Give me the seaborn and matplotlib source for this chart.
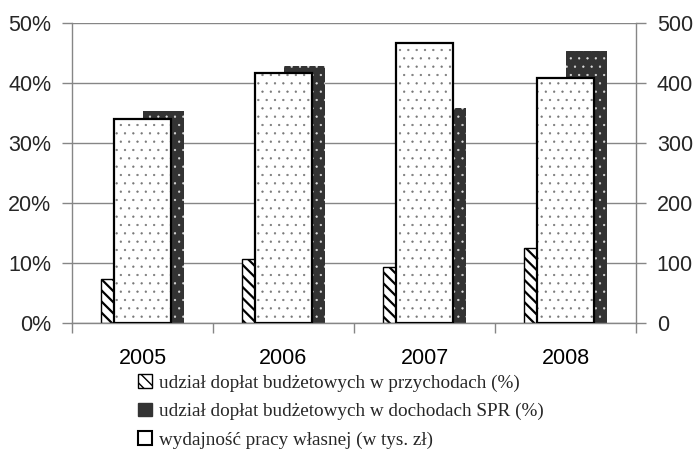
import numpy as np
import pandas as pd
import seaborn as sns
import matplotlib.pyplot as plt
import matplotlib.patches as mpatches
from matplotlib.ticker import FixedLocator, FuncFormatter

# Dane
lata = ["2005", "2006", "2007", "2008"]
udzial_przychody = [7.3, 10.7, 9.4, 12.5]      # %
udzial_dochody = [35.4, 42.9, 35.9, 45.3]      # %
wydajnosc = [340, 417, 467, 409]               # tys. zl

etykiety = [
    "udział dopłat budżetowych w przychodach (%)",
    "udział dopłat budżetowych w dochodach SPR (%)",
    "wydajność pracy własnej (w tys. zł)",
]

GRID = "#868686"
DARK = "#333333"

sns.set_theme(style="white")
plt.rcParams["font.family"] = ["Liberation Sans", "DejaVu Sans"]


def hatch_lw(p, lw):
    if hasattr(p, "set_hatch_linewidth"):
        p.set_hatch_linewidth(lw)


df = pd.DataFrame({
    "rok": lata * 2,
    "seria": [etykiety[0]] * 4 + [etykiety[1]] * 4,
    "wartosc": udzial_przychody + udzial_dochody,
})
df_w = pd.DataFrame({"rok": lata, "wartosc": wydajnosc})

fig = plt.figure(figsize=(6.94, 4.5), dpi=100)
ax = fig.add_axes([72 / 694, 1 - 323 / 450, 564 / 694, 300 / 450])

sns.barplot(data=df, x="rok", y="wartosc", hue="seria", ax=ax, width=0.59,
            palette=["white", DARK], saturation=1, legend=False, errorbar=None)

# wzory wypelnienia
for p in ax.containers[0]:
    p.set_hatch("\\\\\\")
    p.set_edgecolor("black")
    p.set_linewidth(1.0)
    hatch_lw(p, 1.6)
for p in ax.containers[1]:
    p.set_facecolor(DARK)
    p.set_hatch("..")
    p.set_edgecolor("#dddddd")
    p.set_linewidth(0)
    hatch_lw(p, 0.4)

ax.set_ylim(0, 50)
ax.set_xlim(-0.5, 3.5)
ax.yaxis.set_major_locator(FixedLocator([0, 10, 20, 30, 40, 50]))
ax.yaxis.set_major_formatter(FuncFormatter(lambda v, _: f"{v:.0f}%"))
ax.grid(axis="y", color=GRID, linewidth=1)
ax.set_axisbelow(True)
ax.set_xlabel("")
ax.set_ylabel("")

# os X: kreski na granicach kategorii
ax.set_xticks(range(len(lata)))
ax.set_xticklabels(lata)
ax.xaxis.set_minor_locator(FixedLocator(np.arange(-0.5, 4.0, 1.0)))
ax.tick_params(axis="x", which="major", length=0, pad=18, labelsize=15.5, colors="black")
ax.tick_params(axis="x", which="minor", length=7, width=1, color=GRID, bottom=True)
ax.tick_params(axis="y", length=7, width=1, color=GRID, pad=8, labelsize=15.5, left=True)

for s in ["top", "right"]:
    ax.spines[s].set_visible(False)
for s in ["left", "bottom"]:
    ax.spines[s].set_color(GRID)
    ax.spines[s].set_linewidth(1)

# druga os - wydajnosc
ax2 = ax.twinx()
sns.barplot(data=df_w, x="rok", y="wartosc", ax=ax2, width=0.41, color="white",
            saturation=1, errorbar=None)
for p in ax2.patches:
    p.set_hatch("..")
    p.set_edgecolor("#777777")
    p.set_linewidth(0)
    hatch_lw(p, 0.4)
n = len(ax2.patches)
sns.barplot(data=df_w, x="rok", y="wartosc", ax=ax2, width=0.41, color="white",
            saturation=1, errorbar=None)
for p in ax2.patches[n:]:
    p.set_facecolor("none")
    p.set_edgecolor("black")
    p.set_linewidth(1.6)

ax2.set_ylim(0, 500)
ax2.set_xlim(-0.5, 3.5)
ax2.yaxis.set_major_locator(FixedLocator([0, 100, 200, 300, 400, 500]))
ax2.set_ylabel("")
ax2.set_xlabel("")
ax2.tick_params(axis="y", length=7, width=1, color=GRID, pad=8, labelsize=15.5, right=True)
for s in ["top", "left", "bottom"]:
    ax2.spines[s].set_visible(False)
ax2.spines["right"].set_color(GRID)
ax2.spines["right"].set_linewidth(1)

# legenda
h1 = mpatches.Patch(facecolor="white", edgecolor="black", hatch="\\\\\\", linewidth=1)
h2 = mpatches.Patch(facecolor=DARK, edgecolor=DARK, linewidth=1)
h3 = mpatches.Patch(facecolor="white", edgecolor="black", linewidth=1.5)
leg = fig.legend([h1, h2, h3], etykiety, loc="upper left",
                 bbox_to_anchor=(138 / 694, 1 - 374 / 450), frameon=False,
                 handlelength=0.72, handleheight=0.72, handletextpad=0.4,
                 labelspacing=0.58, borderpad=0, borderaxespad=0,
                 prop={"family": "Liberation Serif", "size": 13.8})

fig.savefig("out.png", dpi=100)
